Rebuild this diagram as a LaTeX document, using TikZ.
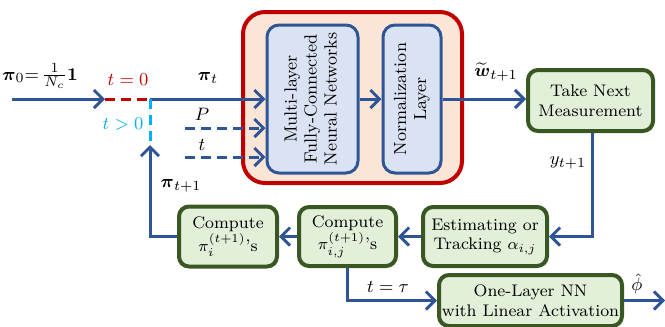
\documentclass[tikz,border=0pt]{standalone}
\usepackage{amsmath, amssymb}
\usepackage{tikz}
\usetikzlibrary{positioning,arrows.meta,calc}
\definecolor{lineblue}{HTML}{2F5597}
\definecolor{boxblue}{HTML}{DAE3F3}
\definecolor{boxgreen}{HTML}{E2F0D9}
\definecolor{darkgreen}{HTML}{385723}
\definecolor{darkred}{HTML}{C00000}
\definecolor{peach}{HTML}{FBE5D6}
\definecolor{skyblue}{HTML}{00B0F0}
\tikzset{
  flowline/.style={draw=lineblue, line width=1.5pt},
  flowarrow/.style={flowline, -{Straight Barb[length=4.5pt, width=9pt, line width=1.5pt]}},
  inputarrow/.style={flowarrow, dashed, dash pattern=on 5pt off 3pt},
  netbox/.style={draw=lineblue, line width=1.5pt, fill=boxblue, rounded corners=6pt, align=center},
  stepbox/.style={draw=darkgreen, line width=2pt, fill=boxgreen, rounded corners=5pt, align=center, inner sep=1pt, font=\fontsize{8.4}{9.8}\selectfont},
  outerbox/.style={draw=darkred, line width=2pt, fill=peach, rounded corners=11pt},
  lbl/.style={inner sep=0pt, font=\fontsize{9.4}{11}\selectfont}
}
\begin{document}
\begin{tikzpicture}[x=0.5pt, y=-0.5pt, every node/.style={font=\fontsize{8.8}{10}\selectfont}]
  \useasboundingbox (0,0) rectangle (665,327);
  % network block
  \node[outerbox, minimum width=109.5pt, minimum height=85.5pt] (outer) at (352.5,97.5) {};
  \node[netbox, minimum width=45.5pt, minimum height=74pt] (nn) at (312.5,99) {\rotatebox{90}{\begin{tabular}{@{}c@{}}Multi-layer\\Fully-Connected\\Neural Networks\end{tabular}}};
  \node[netbox, minimum width=29pt, minimum height=74pt] (norm) at (412,99) {\rotatebox{90}{\begin{tabular}{@{}c@{}}Normalization\\Layer\end{tabular}}};
  % processing steps
  \node[stepbox, minimum width=62.5pt, minimum height=30.5pt] (take) at (590.5,100.5) {Take Next\\Measurement};
  \node[stepbox, minimum width=62pt, minimum height=29.5pt] (est) at (485,236.5) {Estimating or\\Tracking $\alpha_{i,j}$};
  \node[stepbox, minimum width=48.5pt, minimum height=29.5pt] (pij) at (347.5,236.5) {Compute\\$\pi_{i,j}^{(t+1)}$'s};
  \node[stepbox, minimum width=49pt, minimum height=30pt] (pii) at (228,236.5) {Compute\\$\pi_{i}^{(t+1)}$'s};
  \node[stepbox, minimum width=91.5pt, minimum height=25.5pt] (one) at (530.5,300.5) {One-Layer NN\\with Linear Activation};

  \coordinate (start) at (12,99);
  \coordinate (init) at (105,99);
  \coordinate (split) at (150,99);
  \coordinate (back) at (150,145);
  \coordinate (pin) at (185,128);
  \coordinate (tin) at (185,157);
  \coordinate (out) at (665,300.5);

  % inputs
  \draw[flowarrow] (start) -- (init);
  \draw[darkred, line width=1.5pt, dash pattern=on 5pt off 3pt] (init) -- (split);
  \draw[flowarrow] (split) -- (nn.west |- split);
  \draw[inputarrow] (pin) -- (nn.west |- pin);
  \draw[inputarrow] (tin) -- (nn.west |- tin);
  \draw[skyblue, line width=1.5pt, dash pattern=on 5pt off 3pt] (split) -- (back);

  % loop
  \draw[flowarrow] (nn.east |- norm.west) -- (norm.west);
  \draw[flowarrow] (norm.east) -- (take.west |- norm.east);
  \draw[flowarrow] (take.south -| 592,0) -- (592,236.5) -- (est.east);
  \draw[flowarrow] (est.west) -- (pij.east);
  \draw[flowarrow] (pij.west) -- (pii.east);
  \draw[flowarrow] (pii.west) -| (back);
  \draw[flowarrow] (pij.south) |- (one.west);
  \draw[flowarrow] (one.east) -- (out);

  % labels
  \node[lbl] (pizero) at (40,76) {$\boldsymbol{\pi}_0{=}\,\tfrac{1}{N_c}\mathbf{1}$};
  \node[lbl, text=darkred] (tzero) at (128,80) {$t=0$};
  \node[lbl, text=skyblue] (tpos) at (123,124) {$t>0$};
  \node[lbl] (pit) at (208,78) {$\boldsymbol{\pi}_t$};
  \node[lbl] (plbl) at (202,114) {$P$};
  \node[lbl] (tlbl) at (202,145) {$t$};
  \node[lbl] (pinext) at (181,186) {$\boldsymbol{\pi}_{t+1}$};
  \node[lbl] (wlbl) at (496,72) {$\widetilde{\boldsymbol{w}}_{t+1}$};
  \node[lbl] (ylbl) at (568,163) {$y_{t+1}$};
  \node[lbl] (taulbl) at (388,287) {$t=\tau$};
  \node[lbl] (philbl) at (637,284) {$\hat{\phi}$};
\end{tikzpicture}
\end{document}
